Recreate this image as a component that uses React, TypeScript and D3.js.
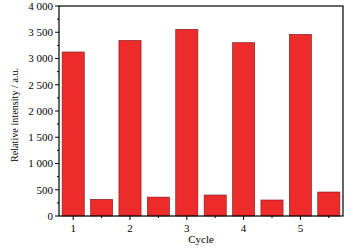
import React from "react";
import * as d3 from "d3";

const categories = ["1", "1b", "2", "2b", "3", "3b", "4", "4b", "5", "5b"];
const values = [3124, 318, 3345, 360, 3556, 400, 3302, 305, 3460, 457];
const xTickLabels = ["1", "", "2", "", "3", "", "4", "", "5", ""];
const yTicks = [0, 500, 1000, 1500, 2000, 2500, 3000, 3500, 4000];
const yMinorTicks = [250, 750, 1250, 1750, 2250, 2750, 3250, 3750];

const W = 354;
const H = 248;
const M = { left: 59, right: 11, top: 6, bottom: 32 };
const FONT = "'Liberation Serif', 'Times New Roman', serif";

const fmt = (v: number) => d3.format(",")(v).replace(/,/g, " ");

export default function App() {
  const x = d3
    .scaleBand<string>()
    .domain(categories)
    .range([M.left, W - M.right])
    .paddingInner(0.22)
    .paddingOuter(0.11);
  const y = d3.scaleLinear().domain([0, 4000]).range([H - M.bottom, M.top]);
  const x0 = M.left;
  const x1 = W - M.right;
  const y0 = H - M.bottom;
  const y1 = M.top;
  return (
    <svg
      width={W}
      height={H}
      style={{ position: "fixed", left: 0, top: 0, background: "#fff" }}
      fontFamily={FONT}
    >
      <rect x={0} y={0} width={W} height={H} fill="#fff" />
      {values.map((v, i) => (
        <rect
          key={i}
          x={x(categories[i])}
          y={y(v)}
          width={x.bandwidth()}
          height={y(0) - y(v)}
          fill="#EE2B2B"
          stroke="#7a1a1a"
          strokeWidth={0.6}
        />
      ))}
      <rect x={x0} y={y1} width={x1 - x0} height={y0 - y1} fill="none" stroke="#000" strokeWidth={1.2} />
      {yTicks.map((t) => (
        <g key={t}>
          <line x1={x0 - 4} x2={x0} y1={y(t)} y2={y(t)} stroke="#000" strokeWidth={1} />
          <text x={x0 - 6} y={y(t)} dy="0.35em" textAnchor="end" fontSize={11} fill="#000">
            {fmt(t)}
          </text>
        </g>
      ))}
      {yMinorTicks.map((t) => (
        <line key={t} x1={x0 - 2} x2={x0} y1={y(t)} y2={y(t)} stroke="#000" strokeWidth={1} />
      ))}
      {categories.map((c, i) => {
        const cx = (x(c) as number) + x.bandwidth() / 2;
        const major = xTickLabels[i] !== "";
        return (
          <g key={c}>
            <line x1={cx} x2={cx} y1={y0} y2={y0 + (major ? 4 : 2)} stroke="#000" strokeWidth={1} />
            {major && (
              <text x={cx} y={y0 + 16} textAnchor="middle" fontSize={11} fill="#000">
                {xTickLabels[i]}
              </text>
            )}
          </g>
        );
      })}
      <text x={(x0 + x1) / 2} y={H - 5} textAnchor="middle" fontSize={11} fill="#000">
        Cycle
      </text>
      <text
        transform={`translate(${18},${115}) rotate(-90)`}
        textAnchor="middle"
        fontSize={10.2}
        fill="#000"
      >
        Relative intensity / a.u.
      </text>
    </svg>
  );
}
